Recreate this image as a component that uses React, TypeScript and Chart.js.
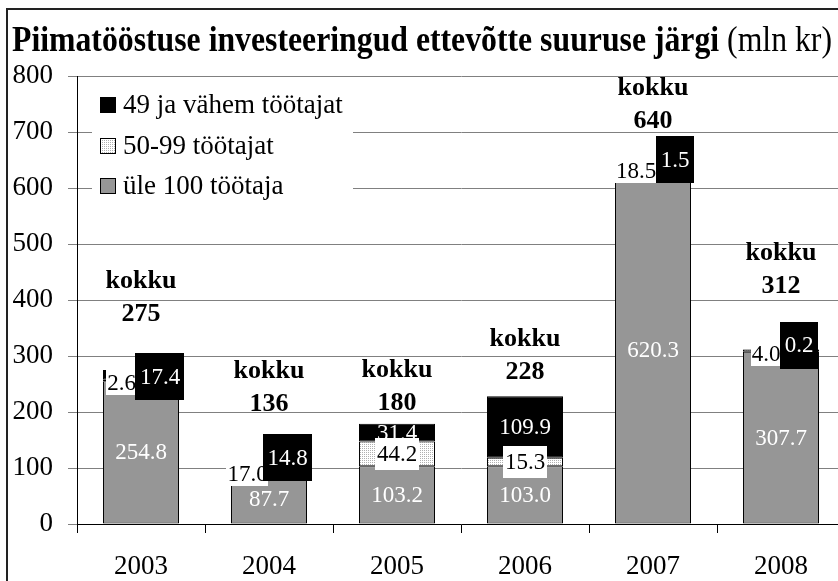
import React, { useEffect, useRef } from 'react';
import { Chart, registerables } from 'chart.js';

Chart.register(...registerables);

// ---------- data ----------
const years = ['2003', '2004', '2005', '2006', '2007', '2008'];
const over100 = [254.8, 87.7, 103.2, 103.0, 620.3, 307.7];
const from50to99 = [2.6, 17.0, 44.2, 15.3, 18.5, 4.0];
const upTo49 = [17.4, 14.8, 31.4, 109.9, 1.5, 0.2];
const totals = [275, 136, 180, 228, 640, 312];
const yTickValues = [0, 100, 200, 300, 400, 500, 600, 700, 800];
const seriesNames = ['49 ja vähem töötajat', '50-99 töötajat', 'üle 100 töötaja'];
const titleBold = 'Piimatööstuse investeeringud ettevõtte suuruse järgi';
const titleUnit = '(mln kr)';
const totalWord = 'kokku';

// ---------- label layout (pixel offsets, not data) ----------
const labelMode = ['side', 'side', 'inside', 'inside', 'side', 'side'];
// [whiteDx, whiteDy, blackDx, blackDy] relative to bar centre / stack top
const sideOffsets: (number[] | null)[] = [
  [-19.5, 13, 19, 6.5],
  [-21.5, 17, 18.5, 0.5],
  null,
  null,
  [-17, 6, 22, -5.5],
  [-15, 5, 18, -4],
];
const totalOffsets = [-56, -53, -21, -24, -44, -63];

const SERIF = "'Liberation Serif', 'Times New Roman', serif";
const GRAY = '#969696';
const CANVAS_W = 880;
const CANVAS_H = 581;

function makePattern(): CanvasPattern | string {
  const c = document.createElement('canvas');
  c.width = 2;
  c.height = 2;
  const g = c.getContext('2d');
  if (!g) return '#eeeeee';
  g.fillStyle = '#ffffff';
  g.fillRect(0, 0, 2, 2);
  g.fillStyle = '#b0b0b0';
  g.fillRect(0, 0, 1, 1);
  return g.createPattern(c, 'repeat') || '#eeeeee';
}

const fmt = (v: number) => v.toFixed(1);

function drawBox(
  ctx: CanvasRenderingContext2D,
  text: string,
  cx: number,
  cy: number,
  padX: number,
  h: number,
  bg: string,
  fg: string,
  boxShift = 0
) {
  const w = ctx.measureText(text).width + padX * 2;
  ctx.fillStyle = bg;
  ctx.fillRect(Math.round(cx - w / 2), Math.round(cy + boxShift - h / 2), Math.round(w), h);
  ctx.fillStyle = fg;
  ctx.fillText(text, cx, cy + 1);
}

export default function App() {
  const ref = useRef<HTMLCanvasElement | null>(null);

  useEffect(() => {
    const canvas = ref.current;
    if (!canvas) return;
    const pattern = makePattern();
    const fills = ['#000000', pattern, GRAY];

    const labelsPlugin = {
      id: 'customLabels',
      afterDatasetsDraw(chart: any) {
        const ctx: CanvasRenderingContext2D = chart.ctx;
        const mLarge = chart.getDatasetMeta(0);
        const mMid = chart.getDatasetMeta(1);
        const mSmall = chart.getDatasetMeta(2);
        ctx.save();
        ctx.textAlign = 'center';
        ctx.textBaseline = 'middle';
        years.forEach((_, i) => {
          const gb: any = mLarge.data[i];
          const mb: any = mMid.data[i];
          const sb: any = mSmall.data[i];
          const x = gb.x;
          ctx.font = `23px ${SERIF}`;
          ctx.fillStyle = '#ffffff';
          ctx.fillText(fmt(over100[i]), x, (gb.y + gb.base) / 2 + 1);
          const top = sb.y;
          if (labelMode[i] === 'inside') {
            drawBox(ctx, fmt(from50to99[i]), x, (mb.y + mb.base) / 2, 2, 32, '#ffffff', '#000000');
            ctx.fillStyle = '#ffffff';
            ctx.fillText(fmt(upTo49[i]), x, (sb.y + sb.base) / 2 + 1);
          } else {
            const o = sideOffsets[i] as number[];
            drawBox(ctx, fmt(from50to99[i]), x + o[0], top + o[1], 1, 36, '#ffffff', '#000000', -6);
            drawBox(ctx, fmt(upTo49[i]), x + o[2], top + o[3], 4.5, 47, '#000000', '#ffffff');
          }
          ctx.font = `bold 26px ${SERIF}`;
          ctx.fillStyle = '#000000';
          const ty = top + totalOffsets[i];
          ctx.fillText(String(totals[i]), x, ty);
          ctx.fillText(totalWord, x, ty - 33);
        });
        ctx.restore();
      },
      afterDraw(chart: any) {
        const ctx: CanvasRenderingContext2D = chart.ctx;
        const area = chart.chartArea;
        ctx.save();
        // legend
        ctx.fillStyle = '#ffffff';
        ctx.fillRect(area.left + 15, area.top + 8, 261, 118);
        ctx.font = `27px ${SERIF}`;
        ctx.textAlign = 'left';
        ctx.textBaseline = 'middle';
        seriesNames.forEach((name, k) => {
          const cy = area.top + 29 + k * 40.5;
          const sx = area.left + 23;
          ctx.fillStyle = fills[k] as any;
          ctx.fillRect(sx, Math.round(cy - 8), 16, 16);
          ctx.strokeStyle = '#000000';
          ctx.lineWidth = 1;
          ctx.strokeRect(sx + 0.5, Math.round(cy - 8) + 0.5, 15, 15);
          ctx.fillStyle = '#000000';
          ctx.fillText(name, sx + 23, cy + 1);
        });
        // title
        const bFont = `bold 35px ${SERIF}`;
        const nFont = `35px ${SERIF}`;
        ctx.font = bFont;
        const wb = ctx.measureText(titleBold).width;
        const ws = ctx.measureText(' ').width;
        ctx.font = nFont;
        const wn = ctx.measureText(titleUnit).width;
        const scaleX = 820 / (wb + ws + wn);
        ctx.translate(12, 51);
        ctx.scale(scaleX, 1);
        ctx.textBaseline = 'alphabetic';
        ctx.fillStyle = '#000000';
        ctx.font = bFont;
        ctx.fillText(titleBold, 0, 0);
        ctx.font = nFont;
        ctx.fillText(titleUnit, wb + ws, 0);
        ctx.restore();
        // frame
        ctx.save();
        ctx.strokeStyle = '#222222';
        ctx.lineWidth = 2;
        ctx.strokeRect(7, 9, CANVAS_W + 40, CANVAS_H + 40);
        ctx.restore();
      },
    };

    const chart = new Chart(canvas, {
      type: 'bar',
      data: {
        labels: years,
        datasets: [
          {
            label: seriesNames[2],
            data: over100,
            backgroundColor: GRAY,
            borderColor: '#000000',
            borderWidth: 1,
            borderSkipped: false,
          },
          {
            label: seriesNames[1],
            data: from50to99,
            backgroundColor: pattern as any,
            borderColor: '#000000',
            borderWidth: 1,
            borderSkipped: false,
          },
          {
            label: seriesNames[0],
            data: upTo49,
            backgroundColor: '#000000',
            borderColor: '#000000',
            borderWidth: 1,
            borderSkipped: false,
          },
        ],
      },
      options: {
        responsive: false,
        animation: false,
        devicePixelRatio: 1,
        datasets: { bar: { categoryPercentage: 1, barPercentage: 0.594 } },
        layout: { padding: { left: 0, top: 76, right: CANVAS_W - 845, bottom: 0 } },
        plugins: { legend: { display: false }, tooltip: { enabled: false }, title: { display: false } },
        scales: {
          x: {
            stacked: true,
            grid: {
              offset: true,
              drawOnChartArea: false,
              drawTicks: true,
              tickLength: 9,
              color: '#000000',
            },
            border: { display: true, color: '#000000', width: 1 },
            ticks: { font: { family: SERIF, size: 27 }, color: '#000000', padding: 18 },
            afterFit: (s: any) => {
              s.height = CANVAS_H - 524;
            },
          },
          y: {
            stacked: true,
            min: yTickValues[0],
            max: yTickValues[yTickValues.length - 1],
            afterBuildTicks: (s: any) => {
              s.ticks = yTickValues.map((v) => ({ value: v }));
            },
            grid: { color: '#808080', tickLength: 9, tickColor: '#808080' },
            border: { display: true, color: '#000000', width: 1 },
            ticks: { font: { family: SERIF, size: 27 }, color: '#000000', padding: 15 },
            afterFit: (s: any) => {
              s.width = 77;
            },
          },
        },
      },
      plugins: [labelsPlugin],
    });
    return () => chart.destroy();
  }, []);

  return (
    <div
      style={{
        position: 'fixed',
        left: 0,
        top: 0,
        width: 838,
        height: 581,
        overflow: 'hidden',
        background: '#ffffff',
      }}
    >
      <canvas ref={ref} width={CANVAS_W} height={CANVAS_H} style={{ display: 'block' }} />
    </div>
  );
}
